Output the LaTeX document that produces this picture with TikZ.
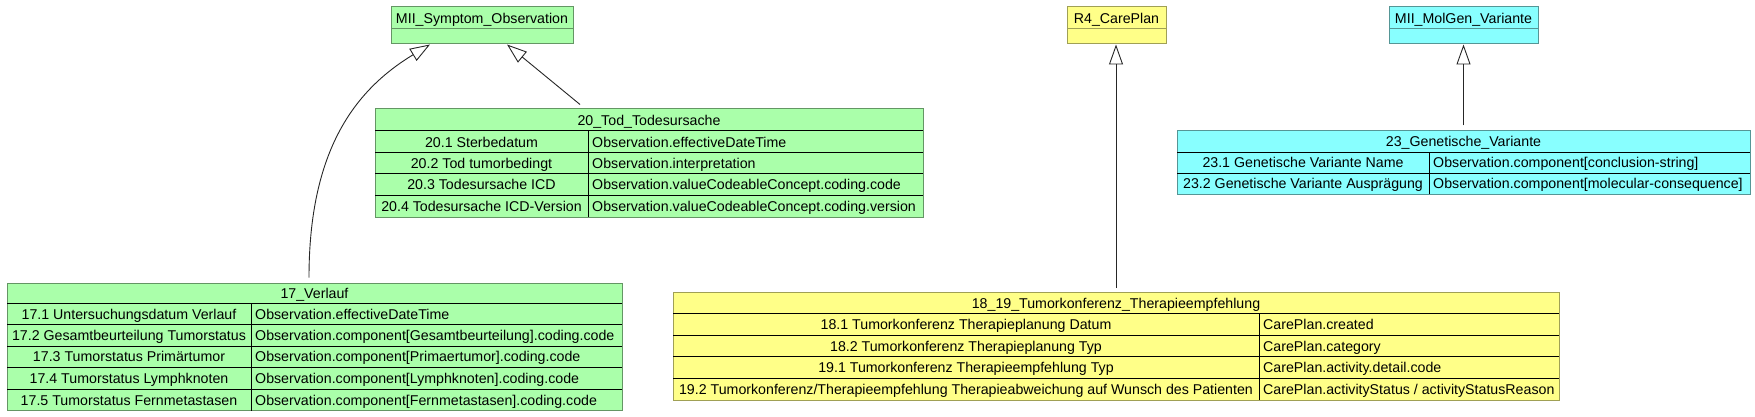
\documentclass[tikz,border=0pt]{standalone}
\usepackage{fontspec}
\setmainfont{Liberation Sans}
\usetikzlibrary{arrows.meta,calc}
\definecolor{gfill}{RGB}{170,255,170}
\definecolor{gline}{RGB}{100,150,100}
\definecolor{yfill}{RGB}{255,255,136}
\definecolor{yline}{RGB}{160,160,85}
\definecolor{cfill}{RGB}{136,255,255}
\definecolor{cline}{RGB}{85,150,150}
\tikzset{
  box/.style={rectangle, line width=1pt, inner sep=0pt},
  gbox/.style={box, draw=gline, fill=gfill},
  ybox/.style={box, draw=yline, fill=yfill},
  cbox/.style={box, draw=cline, fill=cfill},
  sepline/.style={line width=1pt, draw=black},
  txt/.style={inner sep=0pt, anchor=base, font=\fontsize{14.2}{16}\selectfont},
  ltxt/.style={txt, anchor=base west},
  inh/.style={line width=0.9pt, draw=black!85, -{Triangle[open, length=20pt, width=14pt]}},
}
\begin{document}
\begin{tikzpicture}[x=1pt,y=-1pt]
\useasboundingbox (0,0) rectangle (1755,417);

% ---------- top boxes ----------
\node[gbox, minimum width=182pt, minimum height=37pt] (sym) at (482,25.5) {};
\draw[line width=1pt, gline] (391,29) -- (573,29);
\node[txt] (symt) at (482,23.3) {MII\_Symptom\_Observation};

\node[ybox, minimum width=99pt, minimum height=37pt] (r4) at (1116.5,25.5) {};
\draw[line width=1pt, yline] (1067,29) -- (1166,29);
\node[txt] (r4t) at (1116.5,23.3) {R4\_CarePlan};

\node[cbox, minimum width=149pt, minimum height=37pt] (mg) at (1463.5,25.5) {};
\draw[line width=1pt, cline] (1389,29) -- (1538,29);
\node[txt] (mgt) at (1463.5,23.3) {MII\_MolGen\_Variante};

% ---------- 20_Tod_Todesursache ----------
\node[gbox, minimum width=548pt, minimum height=108pt] (tod) at (649,163) {};
\foreach \yy in {131,152.3,173.7,195.3} \draw[sepline] (375,\yy) -- (923,\yy);
\draw[sepline] (588,131) -- (588,217);
\node[txt] (tod0) at (649,125.3) {20\_Tod\_Todesursache};
\node[txt] (tod1a) at (481.5,147) {20.1 Sterbedatum};
\node[ltxt] (tod1b) at (592,147) {Observation.effectiveDateTime};
\node[txt] (tod2a) at (481.5,168.3) {20.2 Tod tumorbedingt};
\node[ltxt] (tod2b) at (592,168.3) {Observation.interpretation};
\node[txt] (tod3a) at (481.5,189.8) {20.3 Todesursache ICD};
\node[ltxt] (tod3b) at (592,189.8) {Observation.valueCodeableConcept.coding.code};
\node[txt] (tod4a) at (481.5,211.5) {20.4 Todesursache ICD-Version};
\node[ltxt] (tod4b) at (592,211.5) {Observation.valueCodeableConcept.coding.version};

% ---------- 17_Verlauf ----------
\node[gbox, minimum width=615pt, minimum height=127.7pt] (verl) at (314.5,346.85) {};
\foreach \yy in {303.3,324.7,346,367.3,389} \draw[sepline] (7,\yy) -- (622,\yy);
\draw[sepline] (251,303.3) -- (251,410.7);
\node[txt] (v0) at (314.5,298.5) {17\_Verlauf};
\node[txt] (v1a) at (129,319.3) {17.1 Untersuchungsdatum Verlauf};
\node[ltxt] (v1b) at (255,319.3) {Observation.effectiveDateTime};
\node[txt] (v2a) at (129,340.6) {17.2 Gesamtbeurteilung Tumorstatus};
\node[ltxt] (v2b) at (255,340.6) {Observation.component[Gesamtbeurteilung].coding.code};
\node[txt] (v3a) at (129,361.9) {17.3 Tumorstatus Primärtumor};
\node[ltxt] (v3b) at (255,361.9) {Observation.component[Primaertumor].coding.code};
\node[txt] (v4a) at (129,383.4) {17.4 Tumorstatus Lymphknoten};
\node[ltxt] (v4b) at (255,383.4) {Observation.component[Lymphknoten].coding.code};
\node[txt] (v5a) at (129,405.1) {17.5 Tumorstatus Fernmetastasen};
\node[ltxt] (v5b) at (255,405.1) {Observation.component[Fernmetastasen].coding.code};

% ---------- 18_19 ----------
\node[ybox, minimum width=886pt, minimum height=107.3pt] (tk) at (1116,346.35) {};
\foreach \yy in {313.3,335,356.7,378.3} \draw[sepline] (673,\yy) -- (1559,\yy);
\draw[sepline] (1259,313.3) -- (1259,400);
\node[txt] (tk0) at (1116,308.3) {18\_19\_Tumorkonferenz\_Therapieempfehlung};
\node[txt] (tk1a) at (966,329.5) {18.1 Tumorkonferenz Therapieplanung Datum};
\node[ltxt] (tk1b) at (1263,329.5) {CarePlan.created};
\node[txt] (tk2a) at (966,351.2) {18.2 Tumorkonferenz Therapieplanung Typ};
\node[ltxt] (tk2b) at (1263,351.2) {CarePlan.category};
\node[txt] (tk3a) at (966,372.8) {19.1 Tumorkonferenz Therapieempfehlung Typ};
\node[ltxt] (tk3b) at (1263,372.8) {CarePlan.activity.detail.code};
\node[txt] (tk4a) at (966,394.5) {19.2 Tumorkonferenz/Therapieempfehlung Therapieabweichung auf Wunsch des Patienten};
\node[ltxt] (tk4b) at (1263,394.5) {CarePlan.activityStatus / activityStatusReason};

% ---------- 23_Genetische_Variante ----------
\node[cbox, minimum width=573pt, minimum height=63pt] (gen) at (1463.5,162.5) {};
\foreach \yy in {152,173} \draw[sepline] (1177,\yy) -- (1750,\yy);
\draw[sepline] (1429,152) -- (1429,194);
\node[txt] (gen0) at (1463.5,146.8) {23\_Genetische\_Variante};
\node[txt] (gen1a) at (1303,167.8) {23.1 Genetische Variante Name};
\node[ltxt] (gen1b) at (1433,167.8) {Observation.component[conclusion-string]};
\node[txt] (gen2a) at (1303,188.8) {23.2 Genetische Variante Ausprägung};
\node[ltxt] (gen2b) at (1433,188.8) {Observation.component[molecular-consequence]};

% ---------- connectors ----------
\draw[inh] ([xshift=-5.5pt,yshift=5pt]verl.north) .. controls (309,150) and (355,90) .. ([xshift=-52pt]sym.south);
\draw[inh] ([xshift=-69pt,yshift=4pt]tod.north) -- ([xshift=25pt]sym.south);
\draw[inh] ([yshift=4pt]tk.north) -- (tk.north |- r4.south);
\draw[inh] ([yshift=5pt]gen.north) -- (mg.south);
\end{tikzpicture}
\end{document}
